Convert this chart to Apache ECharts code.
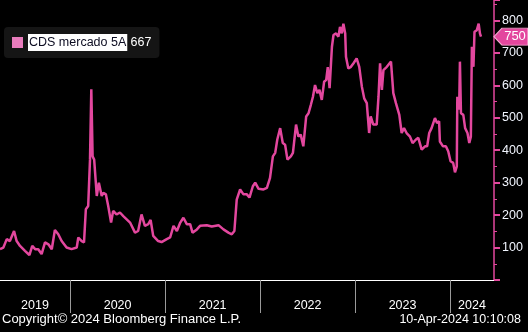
<!DOCTYPE html>
<html><head><meta charset="utf-8">
<script src="https://cdn.jsdelivr.net/npm/echarts@6/dist/echarts.min.js"></script>
<style>html,body{margin:0;padding:0;background:#000;}#c{width:528px;height:332px;}</style>
</head><body><div id="c"></div>
<script>
const seriesName = 'CDS mercado 5A';
const legendValue = '667';
const lastValue = 750;
const dates = [
'2019-04-07','2019-04-20','2019-05-03','2019-05-15','2019-05-31','2019-06-10','2019-06-23','2019-07-12','2019-07-29','2019-08-09',
'2019-08-20','2019-09-01','2019-09-14','2019-09-27','2019-10-10','2019-10-23','2019-11-04','2019-11-17','2019-11-30','2019-12-19',
'2020-01-07','2020-01-27','2020-02-02','2020-02-15','2020-02-24','2020-03-02','2020-03-11','2020-03-18','2020-03-23','2020-03-26',
'2020-03-28','2020-04-03','2020-04-13','2020-04-21','2020-05-02','2020-05-08','2020-05-18','2020-05-27','2020-06-07','2020-06-15',
'2020-06-28','2020-07-11','2020-07-24','2020-08-06','2020-08-19','2020-09-07','2020-09-19','2020-10-02','2020-10-15','2020-10-28',
'2020-11-06','2020-11-16','2020-12-05','2020-12-18','2021-01-07','2021-01-20','2021-02-02','2021-02-15','2021-02-28','2021-03-12',
'2021-03-25','2021-04-07','2021-04-16','2021-05-03','2021-05-15','2021-06-10','2021-06-29','2021-07-25','2021-08-13','2021-09-01',
'2021-09-14','2021-09-24','2021-10-03','2021-10-16','2021-10-29','2021-11-11','2021-11-21','2021-12-04','2021-12-13','2021-12-26',
'2022-01-14','2022-01-27','2022-02-08','2022-02-19','2022-02-28','2022-03-08','2022-03-19','2022-03-29','2022-04-07','2022-04-16',
'2022-04-29','2022-05-07','2022-05-19','2022-05-28','2022-06-06','2022-06-16','2022-06-27','2022-07-06','2022-07-15','2022-07-23',
'2022-07-31','2022-08-09','2022-08-17','2022-08-26','2022-09-04','2022-09-12','2022-09-18','2022-09-25','2022-10-04','2022-10-10',
'2022-10-20','2022-10-29','2022-11-04','2022-11-11','2022-11-17','2022-11-24','2022-11-27','2022-12-06','2022-12-16','2022-12-26',
'2023-01-07','2023-01-17','2023-01-27','2023-02-05','2023-02-15','2023-02-24','2023-03-02','2023-03-12','2023-03-25','2023-04-01',
'2023-04-07','2023-04-14','2023-04-20','2023-05-03','2023-05-19','2023-05-28','2023-06-07','2023-06-20','2023-06-29','2023-07-08',
'2023-07-18','2023-07-31','2023-08-10','2023-08-23','2023-09-01','2023-09-14','2023-09-27','2023-10-05','2023-10-13','2023-10-22',
'2023-11-04','2023-11-12','2023-11-20','2023-11-23','2023-12-05','2023-12-16','2023-12-25','2024-01-03','2024-01-13','2024-01-20',
'2024-01-27','2024-01-29','2024-02-05','2024-02-08','2024-02-12','2024-02-21','2024-02-28','2024-03-08','2024-03-15','2024-03-21',
'2024-03-25','2024-03-31','2024-04-04','2024-04-13','2024-04-20','2024-04-25','2024-04-29'
];
const cds = [
95,100,126,120,151,120,105,90,77,105,
95,95,80,116,110,95,154,141,120,100,
95,100,131,120,116,218,228,371,588,588,
381,371,259,300,259,269,264,228,177,213,
202,208,197,187,177,146,151,202,167,172,
185,136,120,117,126,131,167,151,177,192,
172,172,146,156,167,169,165,169,156,146,
141,151,248,279,264,264,254,289,300,281,
279,284,315,381,392,433,468,422,417,371,
381,392,479,442,448,412,504,514,540,565,
601,576,586,555,611,617,656,591,719,755,
760,750,780,760,790,760,688,652,657,668,
683,657,596,560,545,453,504,479,479,565,
668,586,647,657,673,576,545,509,453,468,
453,442,422,433,438,402,412,412,453,468,
499,484,489,427,412,412,397,366,361,332,
350,565,525,673,514,509,468,453,422,442,
719,657,765,770,790,760,750
];
const yearStarts = ['2019-01-01','2020-01-01','2021-01-01','2022-01-01','2023-01-01','2024-01-01','2025-01-01'];
const yearLabels = ['2019','2020','2021','2022','2023','2024'];
const axisMinDate = '2019-04-07';
const axisMaxDate = '2024-06-18';
const yMax = 863;
const copyrightText = 'Copyright\u00a9 2024 Bloomberg Finance L.P.';
const stampText = '10-Apr-2024 10:10:08';

const t = s => new Date(s + 'T00:00:00Z').getTime();
const xmin = t(axisMinDate), xmax = t(axisMaxDate);
const tickVals = yearStarts.map(t).filter(v => v > xmin && v < xmax);
const labelVals = yearLabels.map((y, i) => {
  const a = Math.max(t(yearStarts[i]), xmin), b = Math.min(t(yearStarts[i + 1]), xmax);
  return (a + b) / 2;
});
const FONT = 'Liberation Sans';
const PINK = '#e3479e';

const chart = echarts.init(document.getElementById('c'), null, {renderer: 'canvas'});
chart.setOption({
  backgroundColor: '#000',
  animation: false,
  textStyle: {fontFamily: FONT},
  grid: {left: 0, right: 34, top: 0, bottom: 52},
  title: [
    {text: copyrightText, left: 2, top: 313, padding: 0, textStyle: {color: '#fff', fontSize: 13, fontWeight: 'normal', fontFamily: FONT}},
    {text: stampText, right: 7, top: 313, padding: 0, textStyle: {color: '#fff', fontSize: 12.5, fontWeight: 'normal', fontFamily: FONT}}
  ],
  legend: {
    left: 4, top: 27, padding: [7, 8, 7, 8],
    backgroundColor: '#151515', borderRadius: 4,
    itemWidth: 11, itemHeight: 11, itemGap: 5, icon: 'rect',
    data: [{name: seriesName, itemStyle: {color: '#e87cbc'}}],
    formatter: n => '{a|' + n + '} {b|' + legendValue + '}',
    textStyle: {
      rich: {
        a: {backgroundColor: '#fff', color: '#0b0b20', fontSize: 12.5, padding: [2, 1, 2, 1], fontFamily: FONT},
        b: {color: '#fff', fontSize: 12.5, fontFamily: FONT}
      }
    }
  },
  xAxis: {
    type: 'value', min: xmin, max: xmax,
    axisLine: {show: true, lineStyle: {color: '#fff', width: 1}},
    axisTick: {show: true, customValues: tickVals, length: 33, lineStyle: {color: '#9a9a9a', width: 1}},
    axisLabel: {show: true, customValues: labelVals, margin: 19, color: '#fff', fontSize: 12.5, fontFamily: FONT,
      formatter: v => String(new Date(v).getUTCFullYear())},
    splitLine: {show: false}
  },
  yAxis: {
    type: 'value', position: 'right', min: 0, max: yMax, interval: 100,
    axisLine: {show: true, lineStyle: {color: PINK, width: 1.5}},
    axisTick: {show: true, length: 6, lineStyle: {color: PINK, width: 2}},
    minorTick: {show: true, splitNumber: 2, length: 3, lineStyle: {color: PINK, width: 1}},
    axisLabel: {margin: 8, color: '#f2f6ff', fontSize: 12.5, fontFamily: FONT, showMaxLabel: false,
      formatter: v => (v === 0 || v % 100 !== 0) ? '' : String(v)},
    splitLine: {show: false}
  },
  series: [{
    name: seriesName, type: 'line', showSymbol: false, symbol: 'none',
    data: dates.map((d, i) => [t(d), cds[i]]),
    lineStyle: {color: PINK, width: 2.5}, itemStyle: {color: PINK},
    markPoint: {
      symbol: 'path://M0,8 L8,0 L34,0 L34,16 L8,16 Z',
      symbolSize: [34, 17], symbolOffset: [17, 0], symbolKeepAspect: false,
      itemStyle: {color: PINK, borderColor: '#f4a8d0', borderWidth: 1},
      label: {show: true, position: 'inside', offset: [4, 0], color: '#fff', fontSize: 13, fontFamily: FONT, formatter: p => String(p.value)},
      data: [{coord: [xmax, lastValue], value: lastValue}]
    }
  }]
});
</script></body></html>
